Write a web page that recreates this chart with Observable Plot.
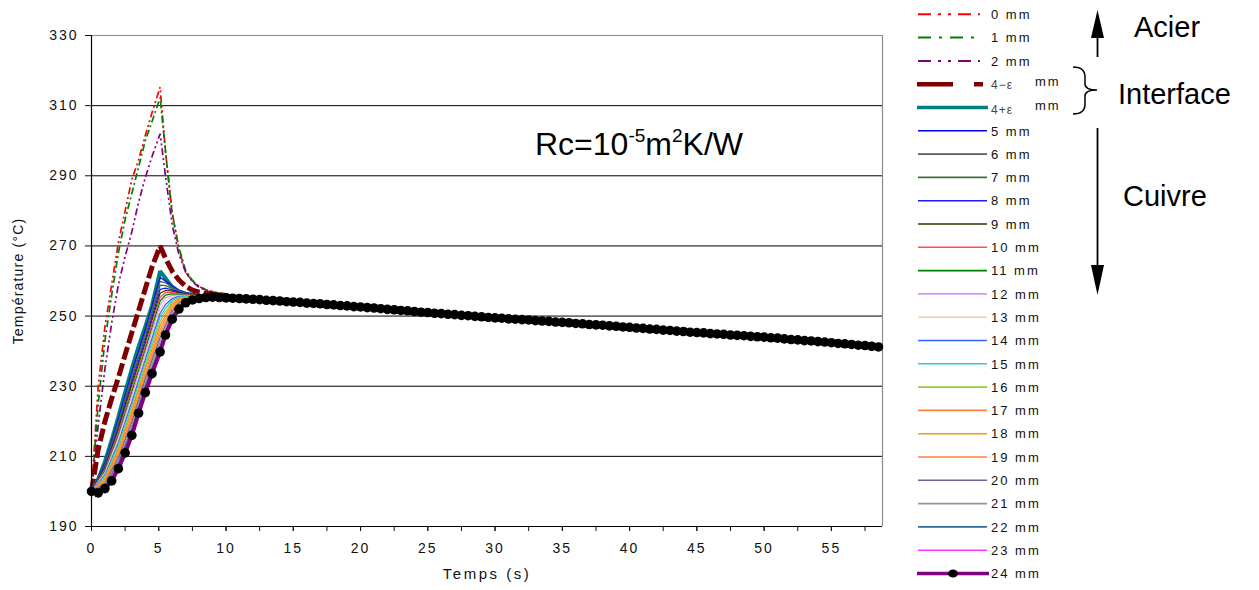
<!DOCTYPE html>
<html><head><meta charset="utf-8">
<script src="https://cdn.jsdelivr.net/npm/d3@7"></script>
<script src="https://cdn.jsdelivr.net/npm/@observablehq/plot@0.6"></script>
<style>
body{margin:0;background:#fff;}
#wrap{position:relative;width:1259px;height:590px;font-family:"Liberation Sans",Arial,sans-serif;overflow:hidden;background:#fff}
#wrap > svg{position:absolute;left:0;top:0}
#wrap g[aria-label="y-axis tick label"] text{letter-spacing:2px}
#wrap g[aria-label="x-axis tick label"] text{letter-spacing:2px}
#wrap g[aria-label="x-axis label"] text{letter-spacing:2.5px;font-size:15px}
#wrap g[aria-label="y-axis label"] text{letter-spacing:1.2px;font-size:14px}
</style></head><body><div id="wrap"></div>
<script>
// ---------- data ----------
const yTicks = [190,210,230,250,270,290,310,330];
const xTicks = [0,5,10,15,20,25,30,35,40,45,50,55];
const xMinorTicks = [0,2.5,5,7.5,10,12.5,15,17.5,20,22.5,25,27.5,30,32.5,35,37.5,40,42.5,45,47.5,50,52.5,55,57.5];
const xMax = 58.8;

const seriesLabels = ["0 mm","1 mm","2 mm","4\u2212\u03b5","4+\u03b5","5 mm","6 mm","7 mm","8 mm","9 mm","10 mm","11 mm","12 mm","13 mm","14 mm","15 mm","16 mm","17 mm","18 mm","19 mm","20 mm","21 mm","22 mm","23 mm","24 mm"];

// times (s)
const tEarly = [0,0.5,1,1.5,2,2.5,3,3.5,4,4.5,5.1,5.5,6,6.5,7,7.5,8,8.5,9,9.5,10];
const tFan = [0,1,2,3,4,5.1,5.5,6,6.5,7,8,9,10];
const tTail = [10.5,11,11.5,12,12.5,13,13.5,14,14.5,15,15.5,16,16.5,17,17.5,18,18.5,19,19.5,20,
  20.5,21,21.5,22,22.5,23,23.5,24,24.5,25,25.5,26,26.5,27,27.5,28,28.5,29,29.5,30,
  30.5,31,31.5,32,32.5,33,33.5,34,34.5,35,35.5,36,36.5,37,37.5,38,38.5,39,39.5,40,
  40.5,41,41.5,42,42.5,43,43.5,44,44.5,45,45.5,46,46.5,47,47.5,48,48.5,49,49.5,50,
  50.5,51,51.5,52,52.5,53,53.5,54,54.5,55,55.5,56,56.5,57,57.5,58,58.5];
// common cooling tail (°C), all depths merged
const tempTail = [255.1,255.0,254.9,254.8,254.7,254.5,254.4,254.3,254.1,254.0,253.9,253.7,253.6,253.5,253.3,253.2,253.0,252.9,252.7,252.6,
  252.4,252.3,252.1,251.9,251.8,251.6,251.5,251.3,251.1,251.0,250.8,250.7,250.5,250.4,250.2,250.1,249.9,249.8,249.6,249.5,
  249.4,249.2,249.1,249.0,248.9,248.7,248.6,248.5,248.3,248.2,248.1,247.9,247.8,247.6,247.5,247.4,247.2,247.1,246.9,246.8,
  246.6,246.5,246.3,246.2,246.0,245.9,245.7,245.6,245.4,245.3,245.2,245.0,244.9,244.8,244.6,244.5,244.4,244.2,244.1,244.0,
  243.8,243.7,243.5,243.3,243.2,243.0,242.9,242.7,242.6,242.4,242.2,242.1,241.9,241.7,241.6,241.4,241.2];

// early part (tEarly)
const acier0 = [200,230,247,259,271,280,289,294.5,301.5,308,315.3,297,279.5,269,262.5,260,258.4,257.5,257,256.5,256.2];
const acier1 = [200,225,243,256,268,277.5,285,292.5,300,305.5,312.3,297,279,269.5,263,260.2,258.5,257.5,257,256.5,256.2];
const acier2 = [200,219,235,248,259,267,274,282.5,289.5,295.5,302,290,276,267.5,262.5,259.8,258.2,257.3,256.8,256.4,256.1];
const interfaceMoins = [200,212,220,226.5,232.5,239,245.3,251.5,257.8,264,270,266.5,262.8,260.3,258.5,257.4,256.8,256.5,256.3,256.1,255.9];
const interfacePlus = [200,203.5,208.5,214.6,221.3,228.3,235,241.3,247,253,262.8,260.8,258.3,257,256.4,256.1,255.9,255.8,255.7,255.6,255.4];
const cuivre24 = [200,199.6,200.8,203,206.5,211,216,222.3,228.2,233.6,239.8,244.6,249.1,252,253.8,254.6,255,255.3,255.4,255.3,255.2];

// copper fan (tFan)
const cuivre5  = [200,208.1,220.6,234.1,246.1,261.0,260.0,258.6,257.3,256.6,256.1,255.7,255.4];
const cuivre6  = [200,207.7,219.8,233.1,245.1,259.9,259.5,258.3,257.2,256.5,256.0,255.7,255.4];
const cuivre7  = [200,207.3,219.1,232.2,244.2,258.8,258.7,257.9,257.0,256.4,256.0,255.7,255.4];
const cuivre8  = [200,207.0,218.3,231.2,243.2,257.6,258.0,257.5,256.8,256.3,255.9,255.7,255.4];
const cuivre9  = [200,206.6,217.6,230.3,242.3,256.5,257.3,257.1,256.6,256.2,255.9,255.6,255.4];
const cuivre10 = [200,206.2,216.9,229.3,241.4,255.4,256.7,256.7,256.4,256.1,255.8,255.6,255.4];
const cuivre11 = [200,205.8,216.1,228.4,240.4,254.3,256.0,256.3,256.2,256.0,255.8,255.6,255.3];
const cuivre12 = [200,205.4,215.4,227.4,239.5,253.2,255.2,255.9,256.0,255.9,255.7,255.6,255.3];
const cuivre13 = [200,205.0,214.6,226.5,238.5,252.0,254.3,255.5,255.8,255.8,255.7,255.5,255.3];
const cuivre14 = [200,204.7,213.9,225.5,237.6,250.8,253.3,255.0,255.6,255.7,255.6,255.5,255.3];
const cuivre15 = [200,204.3,213.2,224.6,236.7,249.7,252.3,254.5,255.4,255.6,255.6,255.5,255.3];
const cuivre16 = [200,203.9,212.4,223.6,235.7,248.5,251.3,254.0,255.1,255.4,255.5,255.5,255.3];
const cuivre17 = [200,203.5,211.7,222.7,234.8,247.3,250.3,253.4,254.8,255.2,255.5,255.5,255.3];
const cuivre18 = [200,203.1,210.9,221.7,233.8,246.2,249.3,252.8,254.5,255.0,255.4,255.4,255.3];
const cuivre19 = [200,202.7,210.2,220.8,232.9,245.0,248.3,252.2,254.1,254.8,255.3,255.4,255.2];
const cuivre20 = [200,202.3,209.5,219.8,232.0,243.8,247.3,251.5,253.7,254.6,255.3,255.4,255.2];
const cuivre21 = [200,202.0,208.7,218.9,231.0,242.6,246.3,250.8,253.3,254.4,255.2,255.4,255.2];
const cuivre22 = [200,201.6,208.0,217.9,230.1,241.5,245.5,250.1,252.8,254.2,255.1,255.4,255.2];
const cuivre23 = [200,201.2,207.2,217.0,229.1,240.5,245.0,249.5,252.3,254.0,255.1,255.4,255.2];

// ---------- styles ----------
const fanColors = ["#0000ff","#5a5a5a","#3f6f3f","#1a1aff","#333300","#ff5050","#008000","#cc99ff","#ffcc99","#3366ff","#33cccc","#99cc33","#ff8040","#ff9900","#ff7f3f","#666699","#969696","#336699","#ff33ff"];
const fanValues = [cuivre5,cuivre6,cuivre7,cuivre8,cuivre9,cuivre10,cuivre11,cuivre12,cuivre13,cuivre14,cuivre15,cuivre16,cuivre17,cuivre18,cuivre19,cuivre20,cuivre21,cuivre22,cuivre23];

const series = [
  {times:tEarly, vals:acier0, stroke:"#ff0000", sw:1.7, dash:"7,3,2,3,2,3", ldash:"13,7,3,7,3,7", lx:[918,980]},
  {times:tEarly, vals:acier1, stroke:"#008000", sw:1.7, dash:"7,3,2,3", ldash:"13,8,3,8", lx:[918,980]},
  {times:tEarly, vals:acier2, stroke:"#800080", sw:1.7, dash:"7,3,2,3,2,3", ldash:"13,7,3,7,3,7", lx:[918,980]},
  {times:tEarly, vals:interfaceMoins, stroke:"#800000", sw:5, dash:"13,4", ldash:"36,21", lx:[917,983]},
  {times:tEarly, vals:interfacePlus, stroke:"#008080", sw:4, dash:null, ldash:null, lx:[917,988]},
  ...fanValues.map((v,i)=>({times:tFan, vals:v, stroke:fanColors[i], sw:1.3, dash:null, ldash:null, lx:[918,987]})),
  {times:tEarly, vals:cuivre24, stroke:"#800080", sw:4, dash:null, ldash:null, lx:[917,989], dots:true}
];
series.forEach((s,i)=>{
  s.label = seriesLabels[i];
  s.rows = s.times.map((t,j)=>({t, T:s.vals[j]})).concat(tTail.map((t,j)=>({t, T:tempTail[j]})));
});

// ---------- chart ----------
const marks = [
  Plot.ruleY(yTicks.filter(v=>v>190 && v<330), {stroke:"#000", strokeWidth:1}),
  Plot.ruleY([330], {stroke:"#8a8a8a", strokeWidth:1.2}),
  Plot.ruleX([xMax], {stroke:"#8a8a8a", strokeWidth:1.2}),
];
series.forEach(s=>{
  const o = {x:"t", y:"T", stroke:s.stroke, strokeWidth:s.sw, strokeLinejoin:"miter", strokeLinecap:"butt"};
  if (s.dash) o.strokeDasharray = s.dash;
  marks.push(Plot.line(s.rows, o));
});
const s24 = series[series.length-1];
marks.push(Plot.dot(s24.rows, {x:"t", y:"T", r:4.8, fill:"#000", stroke:"none"}));
marks.push(
  Plot.ruleY([190], {stroke:"#000", strokeWidth:1.2}),
  Plot.ruleX([0], {stroke:"#000", strokeWidth:1.2}),
  Plot.axisY(yTicks, {tickSize:6, tickPadding:7, label:"Température (°C)", labelAnchor:"center", labelOffset:78, labelArrow:"none"}),
  Plot.axisX(xMinorTicks, {tickSize:5, tickFormat:()=>"", label:null}),
  Plot.axisX(xTicks, {tickSize:5, tickPadding:12, label:"Temps (s)", labelAnchor:"center", labelOffset:52, labelArrow:"none"})
);

const chart = Plot.plot({
  width:1259, height:590,
  marginLeft:91, marginRight:1259-882, marginTop:35, marginBottom:64,
  x:{domain:[0,xMax]},
  y:{domain:[190,330]},
  style:{fontFamily:"Liberation Sans, Arial, sans-serif", fontSize:"14px", color:"#111", background:"transparent"},
  marks
});
const wrap = document.getElementById("wrap");
wrap.appendChild(chart);

// ---------- overlay: title, legend, annotations ----------
const svg = d3.select(wrap).append("svg").attr("width",1259).attr("height",590)
  .style("font-family","Liberation Sans, Arial, sans-serif").style("pointer-events","none");

const title = svg.append("text").attr("x",535).attr("y",155).attr("font-size",32).attr("fill","#000");
title.append("tspan").text("Rc=10");
title.append("tspan").attr("dy",-13).attr("font-size",19).text("-5");
title.append("tspan").attr("dy",13).text("m");
title.append("tspan").attr("dy",-13).attr("font-size",19).text("2");
title.append("tspan").attr("dy",13).text("K/W");

// legend
const lg = svg.append("g");
series.forEach((s,i)=>{
  const y = 14.3 + i*23.3;
  const ln = lg.append("line").attr("x1",s.lx[0]).attr("x2",s.lx[1]).attr("y1",y).attr("y2",y)
    .attr("stroke",s.stroke).attr("stroke-width",s.sw>=4?s.sw-0.5:Math.max(1.5,s.sw+0.3));
  if (s.ldash) ln.attr("stroke-dasharray",s.ldash);
  if (s.dots) lg.append("ellipse").attr("cx",953).attr("cy",y).attr("rx",5).attr("ry",4).attr("fill","#000");
  if (i===3 || i===4) {
    lg.append("text").attr("x",991).attr("y",y+(i===3?5:6)).attr("font-size",12).attr("fill","#444")
      .attr("letter-spacing","1px").text(s.label);
    lg.append("text").attr("x",1035).attr("y",y+2).attr("font-size",13).attr("letter-spacing","2px").attr("fill","#111").text("mm");
  } else {
    lg.append("text").attr("x",991).attr("y",y+4.7).attr("font-size",13).attr("letter-spacing","2px").attr("fill","#111").text(s.label);
  }
});

// annotations
const an = svg.append("g").attr("fill","#000");
an.append("text").attr("x",1134).attr("y",37).attr("font-size",29).text("Acier");
an.append("text").attr("x",1118).attr("y",104).attr("font-size",29).text("Interface");
an.append("text").attr("x",1123).attr("y",206).attr("font-size",29).text("Cuivre");
an.append("line").attr("x1",1097.5).attr("x2",1097.5).attr("y1",57).attr("y2",35).attr("stroke","#000").attr("stroke-width",1.8);
an.append("polygon").attr("points","1097.5,10 1091,38 1104,38");
an.append("line").attr("x1",1097.5).attr("x2",1097.5).attr("y1",128).attr("y2",268).attr("stroke","#000").attr("stroke-width",1.8);
an.append("polygon").attr("points","1097.5,295 1091,265 1104,265");
an.append("path").attr("d","M1073,67 Q1085,67 1085,77 L1085,84 Q1085,90 1097,90 Q1085,90 1085,96 L1085,104 Q1085,114 1073,114")
  .attr("fill","none").attr("stroke","#000").attr("stroke-width",1.5);
</script>
</body></html>
